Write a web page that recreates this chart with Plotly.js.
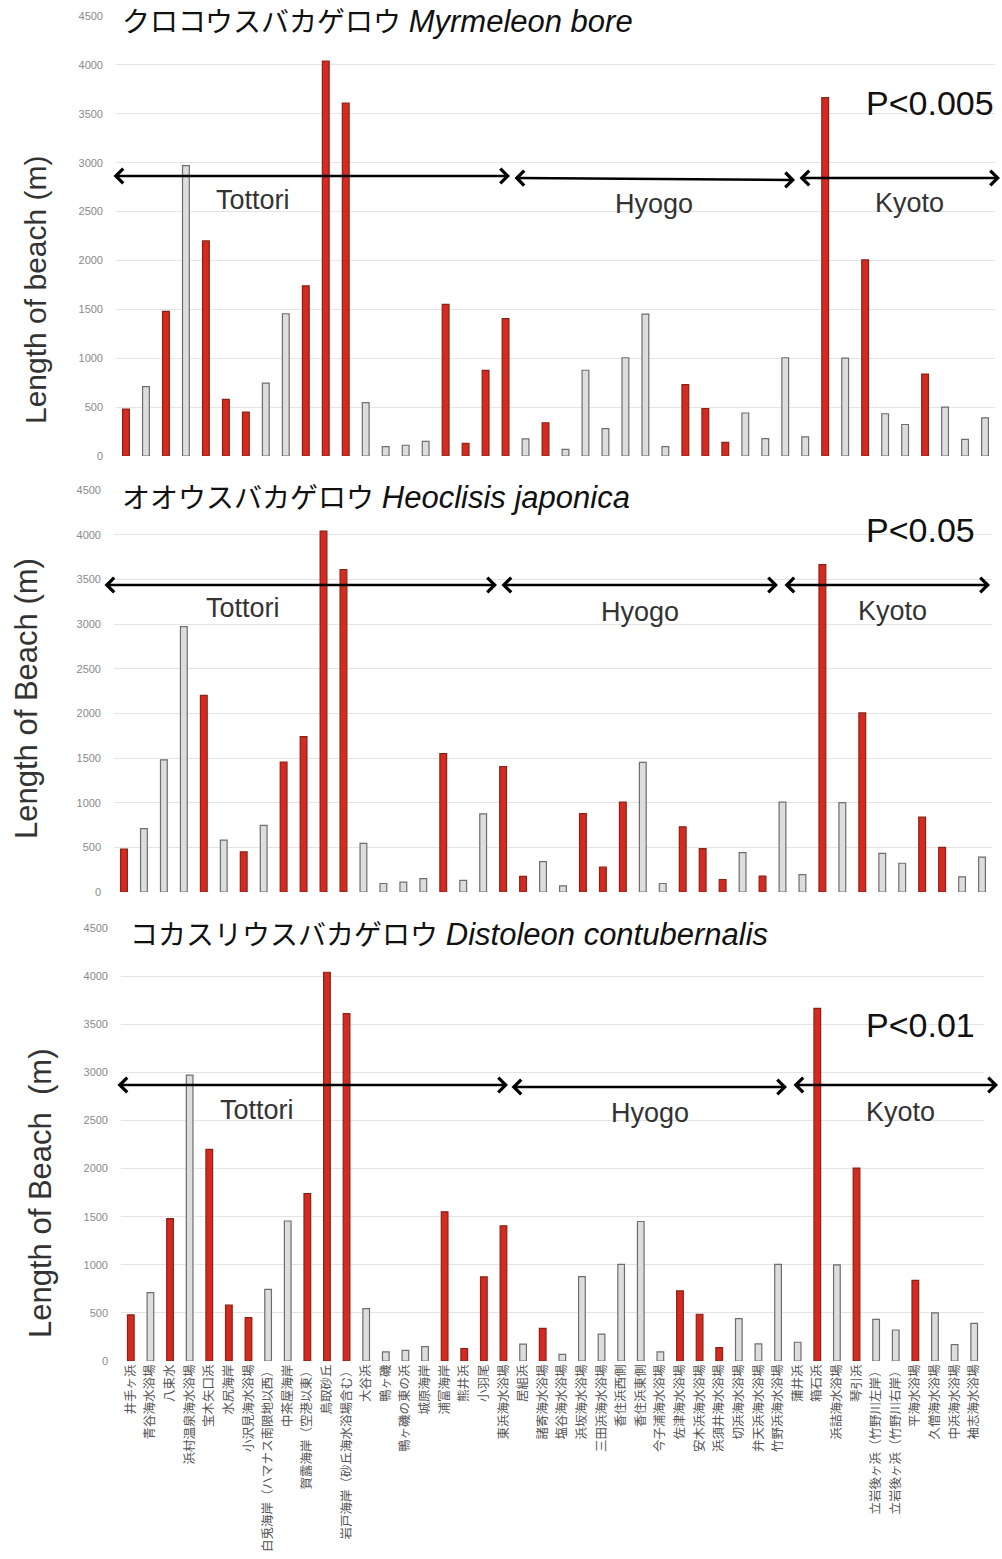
<!DOCTYPE html>
<html>
<head>
<meta charset="utf-8">
<script src="https://cdn.plot.ly/plotly-3.0.1.min.js"></script>
<style>html,body{margin:0;padding:0;background:#fff;}</style>
</head>
<body>
<div id="chart" style="width:1002px;height:1559px;"></div>
<script>
// ---- data ----
const beaches = [
  "井手ヶ浜","青谷海水浴場","八束水","浜村温泉海水浴場","宝木矢口浜","水尻海岸","小沢見海水浴場",
  "白兎海岸（ハマナス南限地以西）","中茶屋海岸","賀露海岸（空港以東）","鳥取砂丘","岩戸海岸（砂丘海水浴場含む）",
  "大谷浜","鴨ヶ磯","鴨ヶ磯の東の浜","城原海岸","浦富海岸","熊井浜","小羽尾","東浜海水浴場",
  "居組浜","諸寄海水浴場","塩谷海水浴場","浜坂海水浴場","三田浜海水浴場","香住浜西側","香住浜東側",
  "今子浦海水浴場","佐津海水浴場","安木浜海水浴場","浜須井海水浴場","切浜海水浴場","弁天浜海水浴場","竹野浜海水浴場",
  "蒲井浜","箱石浜","浜詰海水浴場","琴引浜","立岩後ヶ浜（竹野川左岸）","立岩後ヶ浜（竹野川右岸）",
  "平海水浴場","久僧海水浴場","中浜海水浴場","袖志海水浴場"
];
const beachLength = [
  480, 710, 1480, 2970, 2200, 580, 450, 745, 1455, 1740, 4040, 3610,
  545, 95, 110, 150, 1550, 130, 875, 1405,
  175, 340, 68, 877, 280, 1005, 1450, 95, 730, 486, 140, 440, 178, 1005,
  195, 3665, 1000, 2005, 432, 322, 838, 500, 170, 390
];
// 1 = species found (red bar), 0 = not found (grey bar)
const foundMyrmeleon = [1,0,1,0,1,1,1,0,0,1,1,1,0,0,0,0,1,1,1,1,0,1,0,0,0,0,0,0,1,1,1,0,0,0,0,1,0,1,0,0,1,0,0,0];
const foundHeoclisis = [1,0,0,0,1,0,1,0,1,1,1,1,0,0,0,0,1,0,0,1,1,0,0,1,1,1,0,0,1,1,1,0,1,0,0,1,0,1,0,0,1,1,0,0];
const foundDistoleon = [1,0,1,0,1,1,1,0,0,1,1,1,0,0,0,0,1,1,1,1,0,1,0,0,0,0,0,0,1,1,1,0,0,0,0,1,0,1,0,0,1,0,0,0];
const yTicks = [0,500,1000,1500,2000,2500,3000,3500,4000,4500];
const panelTitles = [
  'クロコウスバカゲロウ <i><span style="font-size:31px">Myrmeleon bore</span></i>',
  'オオウスバカゲロウ <i><span style="font-size:31px">Heoclisis japonica</span></i>',
  'コカスリウスバカゲロウ <i><span style="font-size:31px">Distoleon contubernalis</span></i>'
];
const pLabels = ["P<0.005","P<0.05","P<0.01"];
const yTitles = ["Length of beach (m)","Length of Beach (m)","Length of Beach  (m)"];
const regions = ["Tottori","Hyogo","Kyoto"];

// ---- layout helpers ----
const W = 1002, H = 1559;
const px = x => x / W;
const py = y => 1 - y / H;

const RED = '#d42a1f', RED_LINE = '#8a2217';
const GREY = '#dddddd', GREY_LINE = '#6e6e6e';

function barTrace(found, xa, ya) {
  return {
    type: 'bar', x: beaches, y: beachLength, xaxis: xa, yaxis: ya,
    width: 0.34,
    marker: {
      color: found.map(f => f ? RED : GREY),
      line: { color: found.map(f => f ? RED_LINE : GREY_LINE), width: 1.2 }
    },
    hoverinfo: 'x+y'
  };
}

const traces = [
  barTrace(foundMyrmeleon, 'x', 'y'),
  barTrace(foundHeoclisis, 'x2', 'y2'),
  barTrace(foundDistoleon, 'x3', 'y3')
];

// panel geometry (pixels)
const panels = [
  { x0: 116, x1: 995, y0: 16,  y1: 456 },
  { x0: 114, x1: 992, y0: 490, y1: 892 },
  { x0: 121, x1: 984, y0: 928, y1: 1361 }
];

function xAxis(p, anchor, showLabels) {
  return {
    domain: [px(p.x0), px(p.x1)], anchor: anchor, type: 'category',
    range: [-0.5, beaches.length - 0.5],
    showgrid: false, zeroline: false, showline: false, ticks: '',
    showticklabels: showLabels, tickangle: -90,
    tickfont: { family: 'Noto Sans CJK JP, sans-serif', size: 12.5, color: '#555' },
    automargin: false, fixedrange: true
  };
}
function yAxis(p, anchor) {
  return {
    domain: [py(p.y1), py(p.y0)], anchor: anchor,
    range: [0, 4500], tickvals: yTicks, tickformat: 'd',
    showgrid: true, gridcolor: '#e4e4e4', gridwidth: 1,
    zeroline: false, showline: false, ticks: '',
    ticklabelstandoff: 12,
    tickfont: { family: 'Liberation Sans, Arial, sans-serif', size: 11, color: '#8a8a8a' },
    automargin: false, fixedrange: true
  };
}

const annotations = [];
// panel titles (white box hides the top grid line underneath)
const titlePos = [
  { x: 120, y: 22, w: 725 },
  { x: 120, y: 497, w: 880 },
  { x: 128, y: 934, w: 872 }
];
titlePos.forEach((t, i) => {
  annotations.push({
    xref: 'paper', yref: 'paper', x: px(t.x), y: py(t.y), xanchor: 'left', yanchor: 'middle',
    text: panelTitles[i], showarrow: false, align: 'left', width: t.w, bgcolor: '#ffffff',
    font: { family: 'Liberation Sans, Noto Sans CJK JP, sans-serif', size: 28, color: '#111' }
  });
});
// P values
const pPos = [ { x: 996, y: 103 }, { x: 977, y: 530 }, { x: 977, y: 1025 } ];
pPos.forEach((p, i) => {
  annotations.push({
    xref: 'paper', yref: 'paper', x: px(p.x), y: py(p.y), xanchor: 'right', yanchor: 'middle',
    text: pLabels[i], showarrow: false,
    font: { family: 'Liberation Sans, Arial, sans-serif', size: 34, color: '#111' }
  });
});
// y axis titles
const yTitlePos = [ { x: 35, y: 290, s: 30 }, { x: 27, y: 699, s: 31 }, { x: 40, y: 1193, s: 31 } ];
yTitlePos.forEach((p, i) => {
  annotations.push({
    xref: 'paper', yref: 'paper', x: px(p.x), y: py(p.y), xanchor: 'center', yanchor: 'middle',
    text: yTitles[i], showarrow: false, textangle: -90,
    font: { family: 'Liberation Sans, Arial, sans-serif', size: p.s, color: '#333' }
  });
});
// region labels
const regionPos = [
  [ { x: 253, y: 200 }, { x: 654, y: 204 }, { x: 909, y: 203 } ],
  [ { x: 243, y: 608 }, { x: 640, y: 612 }, { x: 892, y: 611 } ],
  [ { x: 257, y: 1110 }, { x: 650, y: 1113 }, { x: 900, y: 1112 } ]
];
regionPos.forEach(row => row.forEach((p, j) => {
  annotations.push({
    xref: 'paper', yref: 'paper', x: px(p.x), y: py(p.y), xanchor: 'center', yanchor: 'middle',
    text: regions[j], showarrow: false,
    font: { family: 'Liberation Sans, Arial, sans-serif', size: 27, color: '#333' }
  });
}));
// double-headed arrows
const arrows = [
  [112, 176, 510, 176], [513, 178, 795, 180], [798, 178, 1000, 178],
  [103, 585, 497, 585], [500, 585, 778, 585], [783, 585, 990, 585],
  [116, 1085, 508, 1085], [510, 1087, 787, 1087], [792, 1085, 998, 1085]
];
arrows.forEach(a => {
  annotations.push({
    xref: 'paper', yref: 'paper', x: px(a[2]), y: py(a[3]),
    axref: 'pixel', ayref: 'pixel', ax: a[0] - a[2], ay: a[1] - a[3],
    text: '', showarrow: true, arrowside: 'end+start',
    arrowhead: 4, startarrowhead: 4, arrowsize: 1.1, startarrowsize: 1.1,
    arrowwidth: 2.6, arrowcolor: '#000'
  });
});

const layout = {
  width: W, height: H,
  margin: { l: 0, r: 0, t: 0, b: 0 },
  paper_bgcolor: '#fff', plot_bgcolor: '#fff',
  showlegend: false,
  xaxis: xAxis(panels[0], 'y', false),
  yaxis: yAxis(panels[0], 'x'),
  xaxis2: xAxis(panels[1], 'y2', false),
  yaxis2: yAxis(panels[1], 'x2'),
  xaxis3: xAxis(panels[2], 'y3', true),
  yaxis3: yAxis(panels[2], 'x3'),
  annotations: annotations
};

Plotly.newPlot('chart', traces, layout, { displayModeBar: false, staticPlot: true });
</script>
</body>
</html>
